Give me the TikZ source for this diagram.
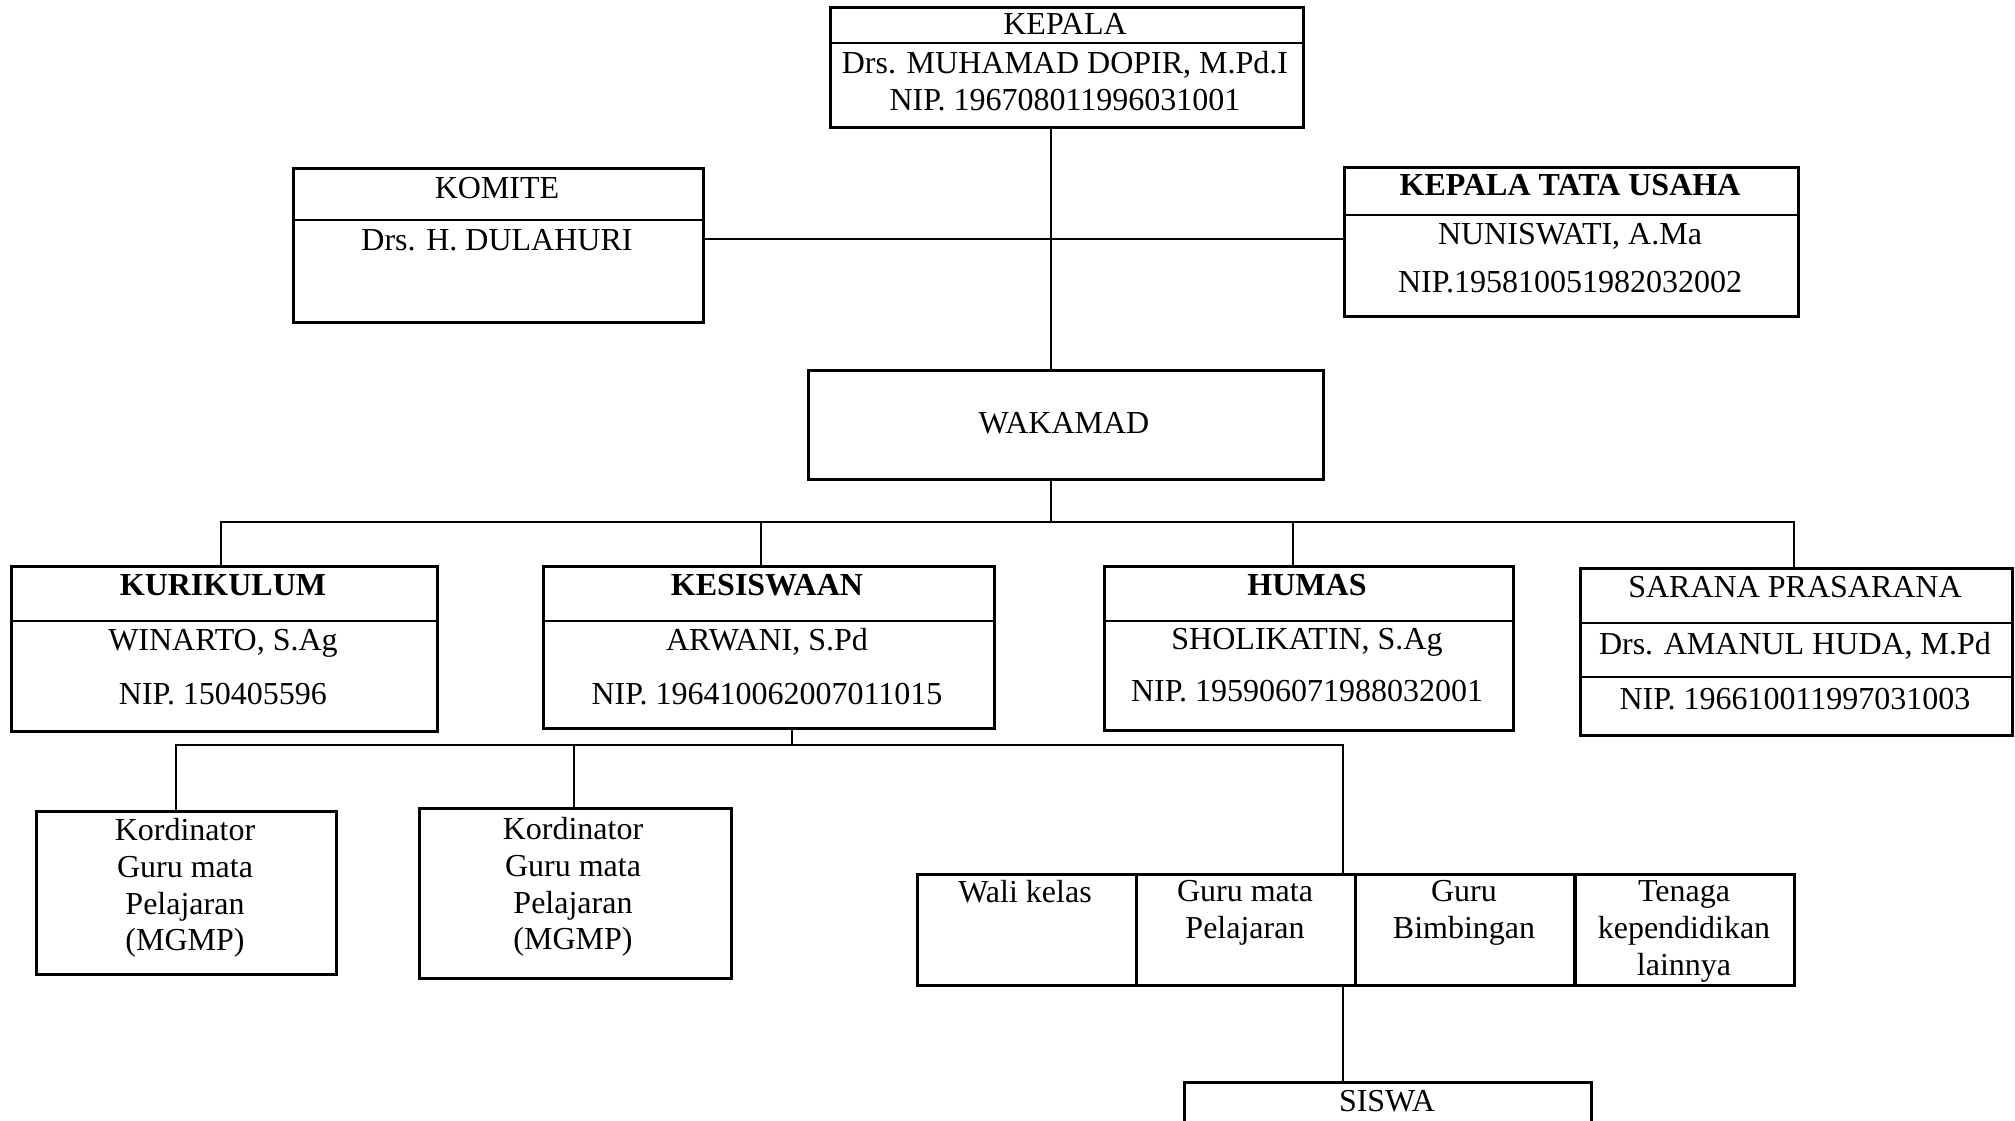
\documentclass[tikz,border=0pt]{standalone}
\usepackage{fontspec}
\setmainfont{Liberation Serif}

\tikzset{
  box/.style={draw, line width=0.75pt, anchor=north west, inner sep=0pt},
  divide/.style={line width=0.75pt},
  txt/.style={font=\fontsize{9.1}{#1}\selectfont, align=center, inner sep=0pt, anchor=north},
  txt/.default=10.5pt,
  link/.style={line width=0.5pt}
}

\begin{document}
\begin{tikzpicture}[x=0.01cm, y=-0.01cm]

    \useasboundingbox (0,0) rectangle (2015,1120);
    \clip (0,0) rectangle (2015,1120);

    % boxes
    \node[box, minimum width=4.73cm, minimum height=1.20cm] (kepala) at (829,6) {};
    \node[box, minimum width=4.10cm, minimum height=1.54cm] (komite) at (292,167) {};
    \node[box, minimum width=4.54cm, minimum height=1.49cm] (ktu) at (1343,166) {};
    \node[box, minimum width=5.15cm, minimum height=1.09cm] (wakamad) at (807,369) {};
    \node[box, minimum width=4.26cm, minimum height=1.65cm] (kurikulum) at (10,565) {};
    \node[box, minimum width=4.51cm, minimum height=1.62cm] (kesiswaan) at (542,565) {};
    \node[box, minimum width=4.09cm, minimum height=1.64cm] (humas) at (1103,565) {};
    \node[box, minimum width=4.32cm, minimum height=1.67cm] (sarana) at (1579,567) {};
    \node[box, minimum width=3.00cm, minimum height=1.63cm] (kord1) at (35,810) {};
    \node[box, minimum width=3.12cm, minimum height=1.70cm] (kord2) at (418,807) {};
    \foreach \n/\x in {wali/916, mapel/1135, bk/1354, tendik/1574}
    \node[box, minimum width=2.19cm, minimum height=1.11cm] (\n) at (\x,873) {};
    \node[box, minimum width=4.07cm, minimum height=0.80cm] (siswa) at (1183,1081) {};

    % dividers
    \draw[divide] (kepala.west |- 0,43) -- (kepala.east |- 0,43);
    \draw[divide] (komite.west |- 0,220) -- (komite.east |- 0,220);
    \draw[divide] (ktu.west |- 0,215) -- (ktu.east |- 0,215);
    \draw[divide] (kurikulum.west |- 0,621) -- (kurikulum.east |- 0,621);
    \draw[divide] (kesiswaan.west |- 0,621) -- (kesiswaan.east |- 0,621);
    \draw[divide] (humas.west |- 0,621) -- (humas.east |- 0,621);
    \draw[divide] (sarana.west |- 0,623) -- (sarana.east |- 0,623);
    \draw[divide] (sarana.west |- 0,677) -- (sarana.east |- 0,677);

    % texts
    \node[txt] (kepalaT) at (1065,13) {KEPALA};
    \node[txt] (kepalaN) at (1065,51) {Drs. MUHAMAD DOPIR, M.Pd.I\\NIP. 196708011996031001};
    \node[txt] (komiteT) at (497,177) {KOMITE};
    \node[txt] (komiteN) at (497,229) {Drs. H. DULAHURI};
    \node[txt] (ktuT) at (1570,174) {\bfseries KEPALA TATA USAHA};
    \node[txt=13.4pt] (ktuN) at (1570,223) {NUNISWATI, A.Ma\\NIP.195810051982032002};
    \node[txt] (wakamadT) at (1064,412) {WAKAMAD};
    \node[txt] (kurikulumT) at (223,574) {\bfseries KURIKULUM};
    \node[txt=15.3pt] (kurikulumN) at (223,629) {WINARTO, S.Ag\\NIP. 150405596};
    \node[txt] (kesiswaanT) at (767,574) {\bfseries KESISWAAN};
    \node[txt=15.3pt] (kesiswaanN) at (767,628) {ARWANI, S.Pd\\NIP. 196410062007011015};
    \node[txt] (humasT) at (1307,574) {\bfseries HUMAS};
    \node[txt=14.8pt] (humasN) at (1307,628) {SHOLIKATIN, S.Ag\\NIP. 195906071988032001};
    \node[txt] (saranaT) at (1795,576) {SARANA PRASARANA};
    \node[txt] (saranaN) at (1795,632) {Drs. AMANUL HUDA, M.Pd};
    \node[txt] (saranaP) at (1795,687) {NIP. 196610011997031003};
    \node[txt=10.4pt] (kord1T) at (185,818) {Kordinator\\Guru mata\\Pelajaran\\(MGMP)};
    \node[txt=10.4pt] (kord2T) at (573,817) {Kordinator\\Guru mata\\Pelajaran\\(MGMP)};
    \node[txt] (waliT) at (1025,880) {Wali kelas};
    \node[txt] (mapelT) at (1245,880) {Guru mata\\Pelajaran};
    \node[txt] (bkT) at (1464,880) {Guru\\Bimbingan};
    \node[txt] (tendikT) at (1684,880) {Tenaga\\kependidikan\\lainnya};
    \node[txt] (siswaT) at (1387,1090) {SISWA};

    % connectors
    \draw[link] (kepala.south -| 1051,0) -- (wakamad.north -| 1051,0);
    \draw[link] (komite.east |- 0,239) -- (ktu.west |- 0,239);
    \draw[link] (wakamad.south -| 1051,0) -- (1051,522);
    \draw[link] (kurikulum.north -| 221,0) -- (221,522) -- (1794,522) -- (sarana.north -| 1794,0);
    \draw[link] (761,522) -- (kesiswaan.north -| 761,0);
    \draw[link] (1293,522) -- (humas.north -| 1293,0);
    \draw[link] (kesiswaan.south -| 792,0) -- (792,745);
    \draw[link] (kord1.north -| 176,0) -- (176,745) -- (1343,745) -- (mapel.north -| 1343,0);
    \draw[link] (574,745) -- (kord2.north -| 574,0);
    \draw[link] (mapel.south -| 1343,0) -- (siswa.north -| 1343,0);
\end{tikzpicture}
\end{document}
